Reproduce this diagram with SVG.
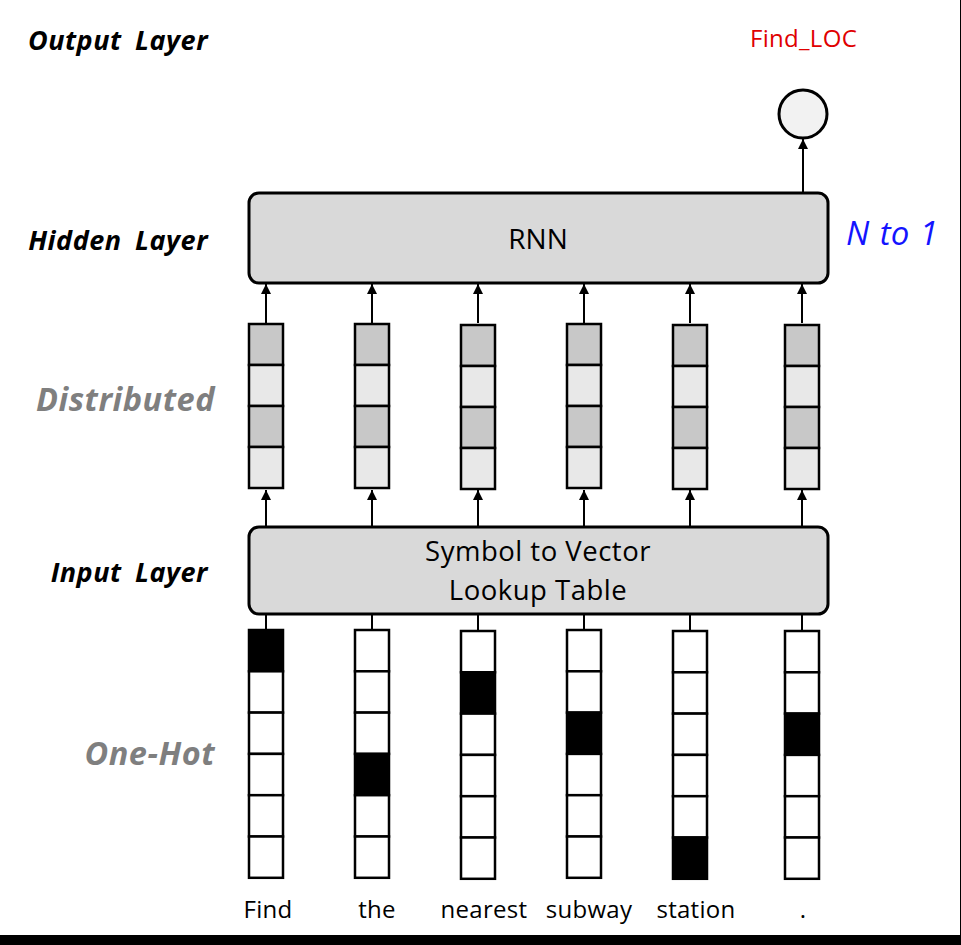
<svg xmlns="http://www.w3.org/2000/svg" width="961" height="945" viewBox="0 0 961 945">
<style>
.box{fill:#d9d9d9;stroke:#000;stroke-width:3}
.dk{fill:#c8c8c8;stroke:#000;stroke-width:2.5}
.lt{fill:#e8e8e8;stroke:#000;stroke-width:2.5}
.wh{fill:#fff;stroke:#000;stroke-width:2.5}
.bk{fill:#000;stroke:#000;stroke-width:2.5}
.lbl{font-family:"Open Sans","Liberation Sans",sans-serif;font-weight:bold;font-style:italic;text-anchor:end;letter-spacing:0.5px}
.blk{fill:#000;font-size:27px;word-spacing:6px}
.gry{fill:#7f7f7f;font-size:32.5px}
.t{font-family:"Open Sans","Liberation Sans",sans-serif;fill:#000;text-anchor:middle}
.w{font-size:24px;letter-spacing:0.3px}
.conn line{stroke:#000;stroke-width:2}
</style>
<defs>
<marker id="ah" viewBox="0 0 10 10" refX="10" refY="5" markerWidth="10" markerHeight="10" markerUnits="userSpaceOnUse" orient="auto">
<path d="M0,0 L10,5 L0,10 z" fill="#000"/>
</marker>
</defs>
<rect width="961" height="945" fill="#fff"/>
<rect x="0" y="935" width="961" height="10" fill="#000"/>
<rect x="960" y="0" width="1" height="945" fill="#000"/>

<g id="labels">
<text class="lbl blk" x="208" y="50">Output Layer</text>
<text class="lbl blk" x="208" y="250">Hidden Layer</text>
<text class="lbl gry" x="215" y="411">Distributed</text>
<text class="lbl blk" x="208" y="582">Input Layer</text>
<text class="lbl gry" x="215" y="765">One-Hot</text>
<text x="846" y="245" font-family="'Open Sans','Liberation Sans',sans-serif" font-style="italic" font-size="33" word-spacing="2" fill="#1414ff">N to 1</text>
<text x="750" y="47" font-family="'Open Sans','Liberation Sans',sans-serif" font-size="24" letter-spacing="0.3" fill="#e00000">Find_LOC</text>
</g>

<g class="conn" id="connectors">
<line x1="803" y1="193" x2="803" y2="139" marker-end="url(#ah)"/>
<line x1="266" y1="323" x2="266" y2="284" marker-end="url(#ah)"/>
<line x1="372" y1="323" x2="372" y2="284" marker-end="url(#ah)"/>
<line x1="478" y1="323" x2="478" y2="284" marker-end="url(#ah)"/>
<line x1="584" y1="323" x2="584" y2="284" marker-end="url(#ah)"/>
<line x1="690" y1="323" x2="690" y2="284" marker-end="url(#ah)"/>
<line x1="802" y1="323" x2="802" y2="284" marker-end="url(#ah)"/>
<line x1="266" y1="527" x2="266" y2="490" marker-end="url(#ah)"/>
<line x1="372" y1="527" x2="372" y2="490" marker-end="url(#ah)"/>
<line x1="478" y1="527" x2="478" y2="490" marker-end="url(#ah)"/>
<line x1="584" y1="527" x2="584" y2="490" marker-end="url(#ah)"/>
<line x1="690" y1="527" x2="690" y2="490" marker-end="url(#ah)"/>
<line x1="802" y1="527" x2="802" y2="490" marker-end="url(#ah)"/>
<line x1="266" y1="614" x2="266" y2="630"/>
<line x1="372" y1="614" x2="372" y2="630"/>
<line x1="478" y1="614" x2="478" y2="630"/>
<line x1="584" y1="614" x2="584" y2="630"/>
<line x1="690" y1="614" x2="690" y2="630"/>
<line x1="802" y1="614" x2="802" y2="630"/>
</g>

<g id="output">
<circle cx="803" cy="114" r="24" fill="#f2f2f2" stroke="#000" stroke-width="3"/>
</g>

<g id="rnn">
<rect class="box" x="249" y="193" width="579" height="90" rx="10"/>
<text class="t" x="538" y="249" font-size="28">RNN</text>
</g>

<g id="lookup">
<rect class="box" x="249" y="527" width="579" height="87" rx="10"/>
<text class="t" x="538" y="561" font-size="27.5" letter-spacing="0.5">Symbol to Vector</text>
<text class="t" x="538" y="600" font-size="27.5" letter-spacing="0.5">Lookup Table</text>
</g>

<g id="dist1"><rect class="dk" x="249" y="324" width="34" height="41"/><rect class="lt" x="249" y="365" width="34" height="41"/><rect class="dk" x="249" y="406" width="34" height="41"/><rect class="lt" x="249" y="447" width="34" height="41"/></g>
<g id="dist2"><rect class="dk" x="355" y="324" width="34" height="41"/><rect class="lt" x="355" y="365" width="34" height="41"/><rect class="dk" x="355" y="406" width="34" height="41"/><rect class="lt" x="355" y="447" width="34" height="41"/></g>
<g id="dist3"><rect class="dk" x="461" y="325" width="34" height="41"/><rect class="lt" x="461" y="366" width="34" height="41"/><rect class="dk" x="461" y="407" width="34" height="41"/><rect class="lt" x="461" y="448" width="34" height="41"/></g>
<g id="dist4"><rect class="dk" x="567" y="324" width="34" height="41"/><rect class="lt" x="567" y="365" width="34" height="41"/><rect class="dk" x="567" y="406" width="34" height="41"/><rect class="lt" x="567" y="447" width="34" height="41"/></g>
<g id="dist5"><rect class="dk" x="673" y="325" width="34" height="41"/><rect class="lt" x="673" y="366" width="34" height="41"/><rect class="dk" x="673" y="407" width="34" height="41"/><rect class="lt" x="673" y="448" width="34" height="41"/></g>
<g id="dist6"><rect class="dk" x="785" y="325" width="34" height="41"/><rect class="lt" x="785" y="366" width="34" height="41"/><rect class="dk" x="785" y="407" width="34" height="41"/><rect class="lt" x="785" y="448" width="34" height="41"/></g>

<g id="onehot1"><rect class="bk" x="249" y="630" width="34" height="41.3"/><rect class="wh" x="249" y="671.3" width="34" height="41.3"/><rect class="wh" x="249" y="712.6" width="34" height="41.3"/><rect class="wh" x="249" y="753.9" width="34" height="41.3"/><rect class="wh" x="249" y="795.2" width="34" height="41.3"/><rect class="wh" x="249" y="836.5" width="34" height="41.3"/></g>
<g id="onehot2"><rect class="wh" x="355" y="630" width="34" height="41.3"/><rect class="wh" x="355" y="671.3" width="34" height="41.3"/><rect class="wh" x="355" y="712.6" width="34" height="41.3"/><rect class="bk" x="355" y="753.9" width="34" height="41.3"/><rect class="wh" x="355" y="795.2" width="34" height="41.3"/><rect class="wh" x="355" y="836.5" width="34" height="41.3"/></g>
<g id="onehot3"><rect class="wh" x="461" y="631" width="34" height="41.3"/><rect class="bk" x="461" y="672.3" width="34" height="41.3"/><rect class="wh" x="461" y="713.6" width="34" height="41.3"/><rect class="wh" x="461" y="754.9" width="34" height="41.3"/><rect class="wh" x="461" y="796.2" width="34" height="41.3"/><rect class="wh" x="461" y="837.5" width="34" height="41.3"/></g>
<g id="onehot4"><rect class="wh" x="567" y="630" width="34" height="41.3"/><rect class="wh" x="567" y="671.3" width="34" height="41.3"/><rect class="bk" x="567" y="712.6" width="34" height="41.3"/><rect class="wh" x="567" y="753.9" width="34" height="41.3"/><rect class="wh" x="567" y="795.2" width="34" height="41.3"/><rect class="wh" x="567" y="836.5" width="34" height="41.3"/></g>
<g id="onehot5"><rect class="wh" x="673" y="631" width="34" height="41.3"/><rect class="wh" x="673" y="672.3" width="34" height="41.3"/><rect class="wh" x="673" y="713.6" width="34" height="41.3"/><rect class="wh" x="673" y="754.9" width="34" height="41.3"/><rect class="wh" x="673" y="796.2" width="34" height="41.3"/><rect class="bk" x="673" y="837.5" width="34" height="41.3"/></g>
<g id="onehot6"><rect class="wh" x="785" y="631" width="34" height="41.3"/><rect class="wh" x="785" y="672.3" width="34" height="41.3"/><rect class="bk" x="785" y="713.6" width="34" height="41.3"/><rect class="wh" x="785" y="754.9" width="34" height="41.3"/><rect class="wh" x="785" y="796.2" width="34" height="41.3"/><rect class="wh" x="785" y="837.5" width="34" height="41.3"/></g>

<g id="words">
<text class="t w" x="268" y="918">Find</text>
<text class="t w" x="377" y="918">the</text>
<text class="t w" x="484" y="918">nearest</text>
<text class="t w" x="589" y="918">subway</text>
<text class="t w" x="696" y="918">station</text>
<text class="t w" x="803" y="918">.</text>
</g>
</svg>
